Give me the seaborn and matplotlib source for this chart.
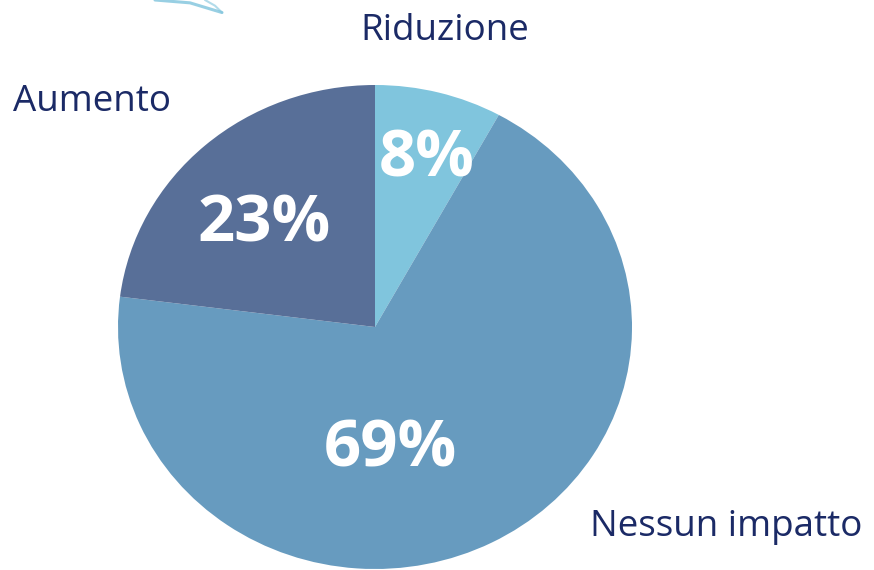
import matplotlib
matplotlib.use("Agg")
import matplotlib.pyplot as plt
from matplotlib.lines import Line2D
import seaborn as sns

# ─── Data ───────────────────────────────────────────────────────────────────────
categories = ["Riduzione", "Nessun impatto", "Aumento"]
shares = [8, 69, 23]
pct_labels = ["8%", "69%", "23%"]
colors = ["#80C5DD", "#679BBF", "#586F98"]

# label placement (pie coordinates)
pct_pos = [(0.20, 0.69), (0.06, -0.51), (-0.43, 0.42)]
cat_pos = [(0.27, 1.225, "center"), (1.365, -0.825, "center"), (-1.41, 0.93, "left")]

sns.set_theme(style="white")
plt.rcParams["font.family"] = ["Open Sans", "DejaVu Sans"]

fig = plt.figure(figsize=(8.74, 5.70), dpi=100, facecolor="white")
ax = fig.add_axes([118 / 874, 1 / 570, 514 / 874, 484 / 570])

wedges, _ = ax.pie(shares, colors=sns.color_palette(colors), startangle=90,
                   counterclock=False, radius=1.0, frame=False,
                   wedgeprops={"linewidth": 0, "antialiased": True})
ax.set_aspect("auto")
ax.set_xlim(-1, 1)
ax.set_ylim(-1, 1)
ax.axis("off")

for (x, y), txt in zip(pct_pos, pct_labels):
    ax.text(x, y, txt, ha="center", va="center", color="white",
            fontsize=47, fontweight="bold", clip_on=False)

for (x, y, ha), name in zip(cat_pos, categories):
    ax.text(x, y, name, ha=ha, va="center", color="#1B2A66",
            fontsize=26.5, clip_on=False)

# decorative stroke at the top
fig.add_artist(Line2D([155 / 874, 190 / 874, 222 / 874], [1.0, 0.995, 0.978],
                      color="#7FC4DC", lw=2.2, alpha=0.8))
fig.add_artist(Line2D([205 / 874, 215 / 874, 222 / 874], [1.0, 0.99, 0.978],
                      color="#7FC4DC", lw=1.5, alpha=0.6))

fig.savefig("out.png", dpi=100, facecolor="white")
